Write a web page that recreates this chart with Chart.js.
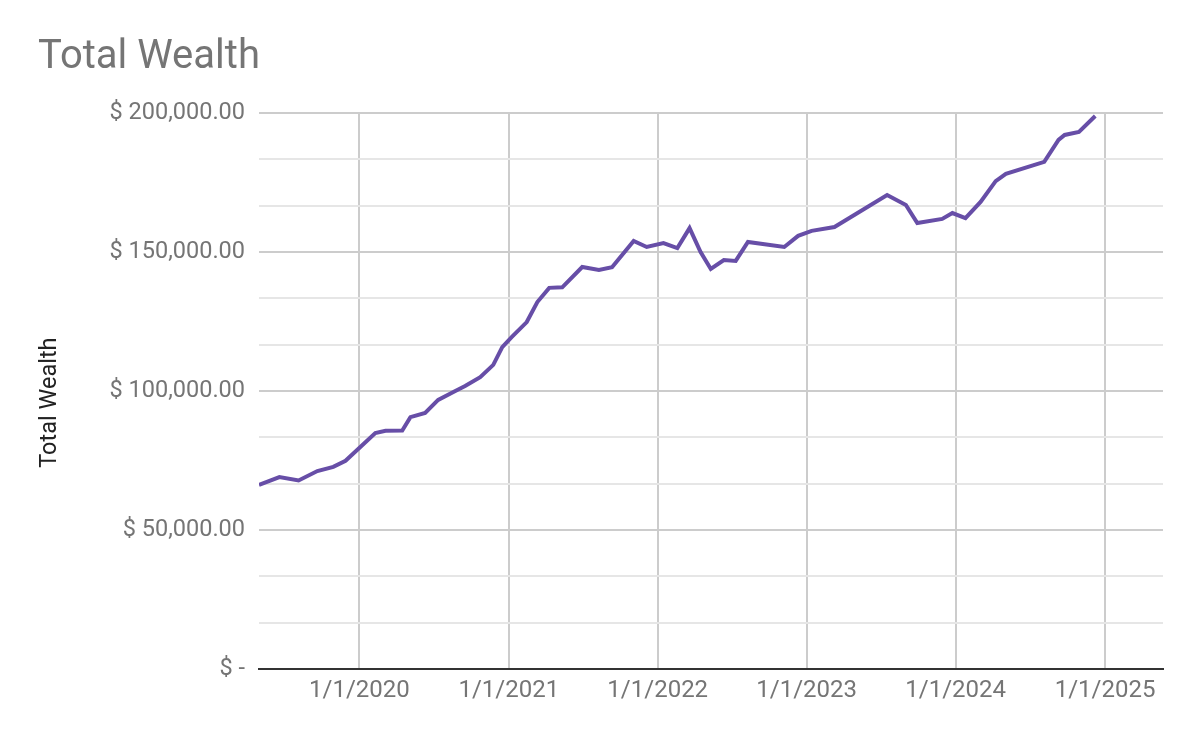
<!DOCTYPE html>
<html><head><meta charset="utf-8">
<script src="https://cdn.jsdelivr.net/npm/chart.js@4.4.0/dist/chart.umd.min.js"></script>
<style>html,body{margin:0;padding:0;background:#fff}#wrap{width:1200px;height:742px}</style>
</head><body><div id="wrap"><canvas id="c" width="1200" height="742"></canvas></div>
<script>
const dates = [
  '2019-04-30','2019-06-19','2019-08-05','2019-09-20','2019-10-29','2019-11-28',
  '2020-02-09','2020-03-05','2020-04-15','2020-05-05','2020-06-10','2020-07-12',
  '2020-08-23','2020-09-16','2020-10-23','2020-11-24','2020-12-16','2021-01-08',
  '2021-02-14','2021-03-12','2021-04-10','2021-05-12','2021-06-30','2021-08-10',
  '2021-09-11','2021-11-03','2021-12-05','2022-01-15','2022-02-18','2022-03-20',
  '2022-04-16','2022-05-11','2022-06-12','2022-07-11','2022-08-10','2022-11-07',
  '2022-12-11','2023-01-13','2023-03-10','2023-07-17','2023-09-01','2023-09-29',
  '2023-11-29','2023-12-24','2024-01-25','2024-03-02','2024-04-08','2024-05-03',
  '2024-08-05','2024-09-09','2024-09-24','2024-10-29','2024-12-08'
];
const wealth = [
  66200, 69050, 67800, 71200, 72700, 74900,
  84900, 85700, 85800, 90600, 92100, 96800,
  100000, 101800, 105000, 109400, 115800, 119400,
  124800, 132000, 137100, 137300, 144600, 143500,
  144500, 154000, 151800, 153200, 151400, 158600,
  150000, 143900, 147100, 146800, 153600, 151800,
  155800, 157600, 159000, 170500, 166900, 160400,
  161900, 164000, 162200, 168000, 175500, 178100,
  182400, 190300, 192100, 193200, 198900
];
const yearTickDates = ['2020-01-01','2021-01-01','2022-01-01','2023-01-01','2024-01-01','2025-01-01'];
const xRange = ['2019-04-30','2025-05-23'];
const yMax = 200000;
const yMajorStep = 50000;

const t = d => new Date(d + 'T00:00:00Z').getTime();
const isMajor = v => Math.abs(v / yMajorStep - Math.round(v / yMajorStep)) < 1e-6;
const fmtMoney = v => {
  if (Math.abs(v) < 1e-6) return '$ -';
  return '$ ' + v.toLocaleString('en-US', {minimumFractionDigits: 2, maximumFractionDigits: 2});
};
const FONT = 'Roboto';

new Chart(document.getElementById('c'), {
  type: 'line',
  data: {
    datasets: [{
      data: dates.map((d, i) => ({x: t(d), y: wealth[i]})),
      borderColor: '#674ea7',
      backgroundColor: '#674ea7',
      borderWidth: 4,
      pointRadius: 0,
      tension: 0,
      fill: false
    }]
  },
  options: {
    responsive: false,
    animation: false,
    layout: {padding: {left: 38, right: 37, top: 0, bottom: 0}},
    plugins: {
      legend: {display: false},
      tooltip: {enabled: false},
      title: {
        display: true, text: 'Total Wealth', align: 'start', color: '#757575',
        font: {family: FONT, size: 40, weight: 'normal', lineHeight: 1.2},
        padding: {top: 34, bottom: 31}
      }
    },
    scales: {
      x: {
        type: 'linear',
        min: t(xRange[0]), max: t(xRange[1]),
        afterBuildTicks: s => { s.ticks = yearTickDates.map(d => ({value: t(d)})); },
        afterFit: s => { s.height = 73; },
        ticks: {
          autoSkip: false, maxRotation: 0, padding: 8, color: '#757575',
          font: {family: FONT, size: 24},
          callback: v => { const d = new Date(v); return (d.getUTCMonth() + 1) + '/' + d.getUTCDate() + '/' + d.getUTCFullYear(); }
        },
        grid: {color: '#cccccc', lineWidth: 2, drawTicks: false},
        border: {display: true, color: '#333333', width: 2}
      },
      y: {
        min: 0, max: yMax,
        afterBuildTicks: s => { const a = []; for (let i = 0; i <= 12; i++) a.push({value: i * yMax / 12}); s.ticks = a; },
        afterFit: s => { s.width = 221; },
        ticks: {
          autoSkip: false, padding: 14, color: '#757575',
          font: {family: FONT, size: 23.5},
          callback: v => isMajor(v) ? fmtMoney(v) : ''
        },
        grid: {
          drawTicks: false, lineWidth: 2,
          color: c => isMajor(c.tick.value) ? '#cccccc' : '#e6e6e6'
        },
        border: {display: false},
        title: {
          display: true, text: 'Total Wealth    ', color: '#222222',
          font: {family: FONT, size: 23.5, lineHeight: 1},
          padding: {top: 0, bottom: 0}
        }
      }
    }
  }
});
</script></body></html>
